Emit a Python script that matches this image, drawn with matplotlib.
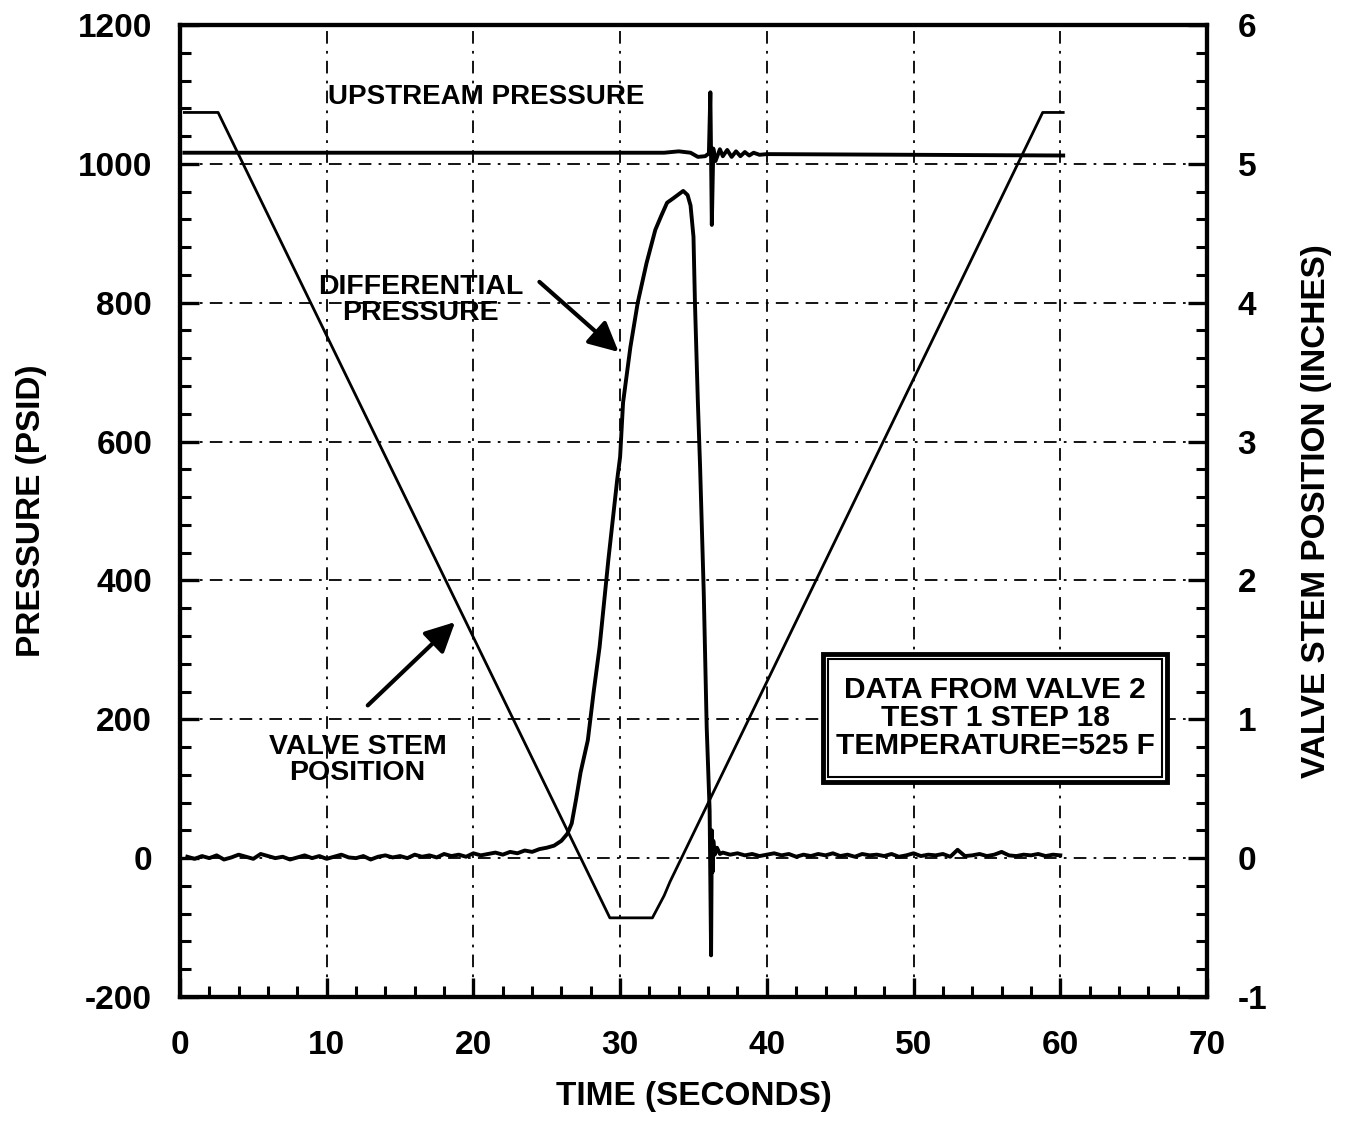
import numpy as np
import matplotlib
matplotlib.use('Agg')
import matplotlib.pyplot as plt
from matplotlib.patches import Rectangle
from matplotlib.ticker import MultipleLocator

plt.rcParams['font.family'] = ['Liberation Sans', 'DejaVu Sans']
plt.rcParams['font.weight'] = 'bold'
plt.rcParams['axes.unicode_minus'] = False

# valve stem position (inches), right axis
stem_t = [0.3, 2.6, 29.3, 32.2, 33.0, 33.4, 58.8, 60.2]
stem_pos = [5.37, 5.37, -0.43, -0.43, -0.27, -0.17, 5.37, 5.37]

# upstream pressure (psi)
up_t = [0.3, 20.0, 33.0, 34.0, 34.8, 35.3, 35.8, 36.05, 36.15, 36.25, 36.35, 36.5,
        36.8, 37.0, 37.3, 37.6, 37.9, 38.2, 38.5, 38.8, 39.1, 39.5, 40.0, 60.2]
up_p = [1016, 1016, 1016, 1018, 1016, 1010, 1011, 1015, 1103, 912, 1022, 1004,
        1021, 1011, 1020, 1010, 1018, 1011, 1017, 1012, 1016, 1013, 1014, 1012]

# differential pressure (psid)
dp_pre = [2, -1, 3, 0, 4, -2, 1, 5, 2, -1,
          6, 3, 0, 2, -2, 1, 4, 0, 3, -1,
          2, 5, 1, 0, 3, -2, 2, 4, 1, 3,
          0, 5, 2, 4, 1, 6, 3, 5, 2, 7,
          4, 6, 8, 5, 9, 7, 11, 9, 13, 15, 18]
dp_mid_t = [26.0, 26.4, 26.7, 27.0, 27.3, 27.8, 28.2, 28.6, 29.2, 29.8, 30.0, 30.2,
            30.7, 31.2, 31.8, 32.4, 32.8, 33.2, 33.6, 34.3, 34.6, 34.8, 35.0, 35.1,
            35.3, 35.45, 35.7, 35.9, 36.1, 36.2, 36.25, 36.3, 36.35, 36.45, 36.6, 36.8]
dp_mid = [25, 35, 50, 85, 123, 170, 240, 304, 430, 545, 578, 656,
          736, 800, 857, 905, 925, 944, 950, 961, 955, 940, 895, 800,
          656, 564, 382, 189, 69, -140, 40, -20, 25, 5, 15, 6]
dp_post = [8, 5, 7, 4, 6, 3, 5, 7, 4, 6,
           2, 5, 3, 6, 4, 7, 3, 5, 2, 6,
           4, 5, 3, 6, 2, 4, 7, 3, 5, 4,
           6, 2, 12, 3, 4, 6, 3, 5, 9, 4,
           3, 5, 4, 6, 3, 5, 4]

dp_t = list(np.arange(0.5, 25.51, 0.5)) + dp_mid_t + list(np.arange(37.0, 60.01, 0.5))
dp_p = dp_pre + dp_mid + dp_post

fig = plt.figure(figsize=(13.45, 11.3), dpi=100)
ax = fig.add_axes([0.1338, 0.1177, 0.7636, 0.8602])
ax2 = ax.twinx()

grid_ls = (0, (7, 4, 1.5, 4))
for gx in [10, 20, 30, 40, 50, 60]:
    ax.axvline(gx, color='k', lw=1.3, ls=grid_ls, zorder=1)
for gy in [0, 200, 400, 600, 800, 1000]:
    ax.axhline(gy, color='k', lw=1.3, ls=grid_ls, zorder=1)

ax.plot(up_t, up_p, color='k', lw=2.8, zorder=3)
ax.plot(dp_t, dp_p, color='k', lw=2.8, zorder=3)
ax2.plot(stem_t, stem_pos, color='k', lw=2.0, zorder=3)

ax.set_xlim(0, 70)
ax.set_ylim(-200, 1200)
ax2.set_ylim(-1, 6)

ax.xaxis.set_major_locator(MultipleLocator(10))
ax.xaxis.set_minor_locator(MultipleLocator(2))
ax.yaxis.set_major_locator(MultipleLocator(200))
ax.yaxis.set_minor_locator(MultipleLocator(40))
ax2.yaxis.set_major_locator(MultipleLocator(1))
ax2.yaxis.set_minor_locator(MultipleLocator(0.2))

for a in (ax, ax2):
    a.tick_params(which='major', direction='in', length=14, width=2.4, labelsize=24)
    a.tick_params(which='minor', direction='in', length=8, width=2.2)
    for s in a.spines.values():
        s.set_linewidth(3)
ax.tick_params(axis='x', which='both', top=False, pad=24)
ax.tick_params(axis='y', which='both', right=False, pad=20)
ax2.tick_params(axis='y', which='both', left=False, pad=22)

ax.set_xlabel('TIME (SECONDS)', fontsize=24, fontweight='bold', labelpad=14)
ax.set_ylabel('PRESSURE (PSID)', fontsize=24, fontweight='bold', labelpad=22)
ax2.set_ylabel('VALVE STEM POSITION (INCHES)', fontsize=24, fontweight='bold', labelpad=24)

ax.text(20.9, 1096, 'UPSTREAM PRESSURE', fontsize=20, fontweight='bold',
        ha='center', va='center', zorder=4)
ax.text(16.4, 804, 'DIFFERENTIAL\nPRESSURE', fontsize=20.5, fontweight='bold',
        ha='center', va='center', linespacing=1.0, zorder=4)
ax.text(12.1, 141, 'VALVE STEM\nPOSITION', fontsize=20.5, fontweight='bold',
        ha='center', va='center', linespacing=1.0, zorder=4)

arrow = dict(arrowstyle='-|>', lw=3, color='k', mutation_scale=45, shrinkA=0, shrinkB=0)
ax.annotate('', xy=(29.9, 729), xytext=(24.5, 830), arrowprops=arrow, zorder=4)
ax.annotate('', xy=(18.75, 340), xytext=(12.8, 220), arrowprops=arrow, zorder=4)

# boxed note with double border
ax.add_patch(Rectangle((43.8, 110), 23.5, 184, fill=True, facecolor='white',
                       edgecolor='k', lw=3.5, zorder=5))
ax.add_patch(Rectangle((44.15, 117), 22.8, 170, fill=False, edgecolor='k',
                       lw=1.5, zorder=5))
ax.text(55.55, 202, 'DATA FROM VALVE 2\nTEST 1 STEP 18\nTEMPERATURE=525 F',
        fontsize=21.5, fontweight='bold', ha='center', va='center',
        linespacing=1.0, zorder=6)

fig.savefig('out.png', dpi=100)
